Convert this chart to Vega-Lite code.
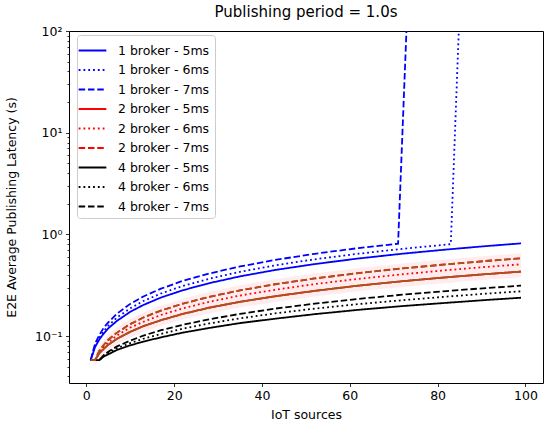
{
"$schema": "https://vega.github.io/schema/vega-lite/v6.json",
"width": 474, "height": 352,
"autosize": {"type": "none"},
"padding": {"left": 69, "top": 31, "right": 7, "bottom": 47},
"title": {"text": "Publishing period = 1.0s", "fontSize": 15, "font": "DejaVu Sans", "fontWeight": "normal", "color": "#000", "offset": 5},
"config": {
  "font": "DejaVu Sans",
  "view": {"stroke": "#000", "strokeWidth": 1},
  "axis": {"labelFont": "DejaVu Sans", "titleFont": "DejaVu Sans", "labelFontSize": 12.5, "titleFontSize": 12.5, "titleFontWeight": "normal", "labelColor": "#000", "titleColor": "#000", "tickColor": "#000", "grid": false, "domain": false}
},
"datasets": {
"lines": [
{"s":"1 broker - 5ms","x":1,"y":0.058},{"s":"1 broker - 5ms","x":2,"y":0.078},{"s":"1 broker - 5ms","x":3,"y":0.093},{"s":"1 broker - 5ms","x":4,"y":0.106},{"s":"1 broker - 5ms","x":5,"y":0.119},{"s":"1 broker - 5ms","x":7,"y":0.141},{"s":"1 broker - 5ms","x":10,"y":0.173},{"s":"1 broker - 5ms","x":13,"y":0.202},{"s":"1 broker - 5ms","x":17,"y":0.239},{"s":"1 broker - 5ms","x":22,"y":0.282},{"s":"1 broker - 5ms","x":28,"y":0.331},{"s":"1 broker - 5ms","x":35,"y":0.386},{"s":"1 broker - 5ms","x":43,"y":0.446},{"s":"1 broker - 5ms","x":52,"y":0.510},{"s":"1 broker - 5ms","x":62,"y":0.579},{"s":"1 broker - 5ms","x":72,"y":0.645},{"s":"1 broker - 5ms","x":82,"y":0.709},{"s":"1 broker - 5ms","x":91,"y":0.766},{"s":"1 broker - 5ms","x":99,"y":0.815},
{"s":"1 broker - 6ms","x":1,"y":0.058},{"s":"1 broker - 6ms","x":2,"y":0.081},{"s":"1 broker - 6ms","x":3,"y":0.097},{"s":"1 broker - 6ms","x":4,"y":0.112},{"s":"1 broker - 6ms","x":5,"y":0.126},{"s":"1 broker - 6ms","x":7,"y":0.152},{"s":"1 broker - 6ms","x":10,"y":0.187},{"s":"1 broker - 6ms","x":13,"y":0.221},{"s":"1 broker - 6ms","x":17,"y":0.262},{"s":"1 broker - 6ms","x":22,"y":0.311},{"s":"1 broker - 6ms","x":28,"y":0.366},{"s":"1 broker - 6ms","x":35,"y":0.428},{"s":"1 broker - 6ms","x":43,"y":0.495},{"s":"1 broker - 6ms","x":52,"y":0.568},{"s":"1 broker - 6ms","x":62,"y":0.645},{"s":"1 broker - 6ms","x":72,"y":0.720},{"s":"1 broker - 6ms","x":83,"y":0.800},{"s":"1 broker - 6ms","x":84,"y":11.3},{"s":"1 broker - 6ms","x":85,"y":160},{"s":"1 broker - 6ms","x":86,"y":2300},
{"s":"1 broker - 7ms","x":1,"y":0.058},{"s":"1 broker - 7ms","x":2,"y":0.084},{"s":"1 broker - 7ms","x":3,"y":0.103},{"s":"1 broker - 7ms","x":4,"y":0.121},{"s":"1 broker - 7ms","x":5,"y":0.136},{"s":"1 broker - 7ms","x":7,"y":0.166},{"s":"1 broker - 7ms","x":10,"y":0.207},{"s":"1 broker - 7ms","x":13,"y":0.245},{"s":"1 broker - 7ms","x":17,"y":0.292},{"s":"1 broker - 7ms","x":22,"y":0.349},{"s":"1 broker - 7ms","x":28,"y":0.412},{"s":"1 broker - 7ms","x":35,"y":0.483},{"s":"1 broker - 7ms","x":43,"y":0.560},{"s":"1 broker - 7ms","x":52,"y":0.644},{"s":"1 broker - 7ms","x":62,"y":0.733},{"s":"1 broker - 7ms","x":71,"y":0.810},{"s":"1 broker - 7ms","x":72,"y":10.2},{"s":"1 broker - 7ms","x":73,"y":128},{"s":"1 broker - 7ms","x":74,"y":1600},
{"s":"2 broker - 5ms","x":1,"y":0.058},{"s":"2 broker - 5ms","x":2,"y":0.058},{"s":"2 broker - 5ms","x":3,"y":0.068},{"s":"2 broker - 5ms","x":4,"y":0.075},{"s":"2 broker - 5ms","x":5,"y":0.082},{"s":"2 broker - 5ms","x":7,"y":0.094},{"s":"2 broker - 5ms","x":10,"y":0.110},{"s":"2 broker - 5ms","x":13,"y":0.125},{"s":"2 broker - 5ms","x":17,"y":0.143},{"s":"2 broker - 5ms","x":22,"y":0.165},{"s":"2 broker - 5ms","x":28,"y":0.190},{"s":"2 broker - 5ms","x":35,"y":0.217},{"s":"2 broker - 5ms","x":43,"y":0.246},{"s":"2 broker - 5ms","x":52,"y":0.278},{"s":"2 broker - 5ms","x":62,"y":0.313},{"s":"2 broker - 5ms","x":72,"y":0.346},{"s":"2 broker - 5ms","x":82,"y":0.378},{"s":"2 broker - 5ms","x":91,"y":0.406},{"s":"2 broker - 5ms","x":99,"y":0.430},
{"s":"2 broker - 6ms","x":1,"y":0.058},{"s":"2 broker - 6ms","x":2,"y":0.058},{"s":"2 broker - 6ms","x":3,"y":0.070},{"s":"2 broker - 6ms","x":4,"y":0.079},{"s":"2 broker - 6ms","x":5,"y":0.087},{"s":"2 broker - 6ms","x":7,"y":0.101},{"s":"2 broker - 6ms","x":10,"y":0.121},{"s":"2 broker - 6ms","x":13,"y":0.138},{"s":"2 broker - 6ms","x":17,"y":0.161},{"s":"2 broker - 6ms","x":22,"y":0.187},{"s":"2 broker - 6ms","x":28,"y":0.217},{"s":"2 broker - 6ms","x":35,"y":0.250},{"s":"2 broker - 6ms","x":43,"y":0.285},{"s":"2 broker - 6ms","x":52,"y":0.324},{"s":"2 broker - 6ms","x":62,"y":0.365},{"s":"2 broker - 6ms","x":72,"y":0.405},{"s":"2 broker - 6ms","x":82,"y":0.444},{"s":"2 broker - 6ms","x":91,"y":0.478},{"s":"2 broker - 6ms","x":99,"y":0.507},
{"s":"2 broker - 7ms","x":1,"y":0.058},{"s":"2 broker - 7ms","x":2,"y":0.058},{"s":"2 broker - 7ms","x":3,"y":0.072},{"s":"2 broker - 7ms","x":4,"y":0.082},{"s":"2 broker - 7ms","x":5,"y":0.092},{"s":"2 broker - 7ms","x":7,"y":0.108},{"s":"2 broker - 7ms","x":10,"y":0.131},{"s":"2 broker - 7ms","x":13,"y":0.152},{"s":"2 broker - 7ms","x":17,"y":0.178},{"s":"2 broker - 7ms","x":22,"y":0.208},{"s":"2 broker - 7ms","x":28,"y":0.243},{"s":"2 broker - 7ms","x":35,"y":0.281},{"s":"2 broker - 7ms","x":43,"y":0.323},{"s":"2 broker - 7ms","x":52,"y":0.368},{"s":"2 broker - 7ms","x":62,"y":0.416},{"s":"2 broker - 7ms","x":72,"y":0.462},{"s":"2 broker - 7ms","x":82,"y":0.507},{"s":"2 broker - 7ms","x":91,"y":0.547},{"s":"2 broker - 7ms","x":99,"y":0.581},
{"s":"4 broker - 5ms","x":1,"y":0.058},{"s":"4 broker - 5ms","x":2,"y":0.058},{"s":"4 broker - 5ms","x":3,"y":0.058},{"s":"4 broker - 5ms","x":4,"y":0.063},{"s":"4 broker - 5ms","x":5,"y":0.066},{"s":"4 broker - 5ms","x":7,"y":0.073},{"s":"4 broker - 5ms","x":10,"y":0.081},{"s":"4 broker - 5ms","x":13,"y":0.088},{"s":"4 broker - 5ms","x":17,"y":0.097},{"s":"4 broker - 5ms","x":22,"y":0.108},{"s":"4 broker - 5ms","x":28,"y":0.120},{"s":"4 broker - 5ms","x":35,"y":0.134},{"s":"4 broker - 5ms","x":43,"y":0.148},{"s":"4 broker - 5ms","x":52,"y":0.164},{"s":"4 broker - 5ms","x":62,"y":0.181},{"s":"4 broker - 5ms","x":72,"y":0.197},{"s":"4 broker - 5ms","x":82,"y":0.212},{"s":"4 broker - 5ms","x":91,"y":0.226},{"s":"4 broker - 5ms","x":99,"y":0.238},
{"s":"4 broker - 6ms","x":1,"y":0.058},{"s":"4 broker - 6ms","x":2,"y":0.058},{"s":"4 broker - 6ms","x":3,"y":0.058},{"s":"4 broker - 6ms","x":4,"y":0.064},{"s":"4 broker - 6ms","x":5,"y":0.068},{"s":"4 broker - 6ms","x":7,"y":0.076},{"s":"4 broker - 6ms","x":10,"y":0.085},{"s":"4 broker - 6ms","x":13,"y":0.094},{"s":"4 broker - 6ms","x":17,"y":0.105},{"s":"4 broker - 6ms","x":22,"y":0.118},{"s":"4 broker - 6ms","x":28,"y":0.133},{"s":"4 broker - 6ms","x":35,"y":0.149},{"s":"4 broker - 6ms","x":43,"y":0.167},{"s":"4 broker - 6ms","x":52,"y":0.186},{"s":"4 broker - 6ms","x":62,"y":0.206},{"s":"4 broker - 6ms","x":72,"y":0.225},{"s":"4 broker - 6ms","x":82,"y":0.244},{"s":"4 broker - 6ms","x":91,"y":0.261},{"s":"4 broker - 6ms","x":99,"y":0.275},
{"s":"4 broker - 7ms","x":1,"y":0.058},{"s":"4 broker - 7ms","x":2,"y":0.058},{"s":"4 broker - 7ms","x":3,"y":0.058},{"s":"4 broker - 7ms","x":4,"y":0.065},{"s":"4 broker - 7ms","x":5,"y":0.070},{"s":"4 broker - 7ms","x":7,"y":0.079},{"s":"4 broker - 7ms","x":10,"y":0.090},{"s":"4 broker - 7ms","x":13,"y":0.101},{"s":"4 broker - 7ms","x":17,"y":0.114},{"s":"4 broker - 7ms","x":22,"y":0.129},{"s":"4 broker - 7ms","x":28,"y":0.146},{"s":"4 broker - 7ms","x":35,"y":0.165},{"s":"4 broker - 7ms","x":43,"y":0.186},{"s":"4 broker - 7ms","x":52,"y":0.208},{"s":"4 broker - 7ms","x":62,"y":0.232},{"s":"4 broker - 7ms","x":72,"y":0.255},{"s":"4 broker - 7ms","x":82,"y":0.277},{"s":"4 broker - 7ms","x":91,"y":0.296},{"s":"4 broker - 7ms","x":99,"y":0.313}
],
"band": [
{"x":2,"lo":0.051,"hi":0.065},{"x":3,"lo":0.060,"hi":0.081},{"x":4,"lo":0.066,"hi":0.092},{"x":5,"lo":0.072,"hi":0.103},{"x":7,"lo":0.083,"hi":0.121},{"x":10,"lo":0.097,"hi":0.147},{"x":13,"lo":0.110,"hi":0.170},{"x":17,"lo":0.126,"hi":0.199},{"x":22,"lo":0.145,"hi":0.233},{"x":28,"lo":0.167,"hi":0.272},{"x":35,"lo":0.191,"hi":0.315},{"x":43,"lo":0.216,"hi":0.362},{"x":52,"lo":0.245,"hi":0.412},{"x":62,"lo":0.275,"hi":0.466},{"x":72,"lo":0.304,"hi":0.517},{"x":82,"lo":0.333,"hi":0.568},{"x":91,"lo":0.357,"hi":0.613},{"x":99,"lo":0.378,"hi":0.651}
]
},
"layer": [
{
  "data": {"name": "band"},
  "mark": {"type": "area", "color": "#ffc0cb", "opacity": 0.3, "clip": true},
  "encoding": {
    "x": {"field": "x", "type": "quantitative"},
    "y": {"field": "lo", "type": "quantitative"},
    "y2": {"field": "hi"}
  }
},
{
  "data": {"name": "lines"},
  "mark": {"type": "line", "strokeWidth": 1.8, "clip": true},
  "encoding": {
    "x": {"field": "x", "type": "quantitative", "scale": {"domain": [-3.94, 104], "nice": false, "zero": false},
          "axis": {"title": "IoT sources", "values": [0,20,40,60,80,100], "tickSize": 3.5, "tickWidth": 0.8, "labelPadding": 3, "titlePadding": 6}},
    "y": {"field": "y", "type": "quantitative", "scale": {"type": "log", "domain": [0.0345, 100], "nice": false},
          "axis": {"title": "E2E Average Publishing Latency (s)",
                   "values": [0.04,0.05,0.06,0.07,0.08,0.09,0.1,0.2,0.3,0.4,0.5,0.6,0.7,0.8,0.9,1,2,3,4,5,6,7,8,9,10,20,30,40,50,60,70,80,90,100],
                   "labelExpr": "datum.value == 0.1 ? '10⁻¹' : datum.value == 1 ? '10⁰' : datum.value == 10 ? '10¹' : datum.value == 100 ? '10²' : ''",
                   "labelOverlap": false, "labelBound": false, "labelFlush": false,
                   "tickSize": {"condition": {"test": "datum.value == 0.1 || datum.value == 1 || datum.value == 10 || datum.value == 100", "value": 3.5}, "value": 2},
                   "tickWidth": 0.8, "labelPadding": 3.5, "titlePadding": 16}},
    "color": {"field": "s", "type": "nominal",
              "scale": {"domain": ["1 broker - 5ms","1 broker - 6ms","1 broker - 7ms","2 broker - 5ms","2 broker - 6ms","2 broker - 7ms","4 broker - 5ms","4 broker - 6ms","4 broker - 7ms"],
                        "range": ["#0000ff","#0000ff","#0000ff","#ff0000","#ff0000","#ff0000","#000000","#000000","#000000"]},
              "legend": {"title": null, "orient": "none", "legendX": 8, "legendY": 4, "symbolType": "M-1.5,0H1.5", "symbolSize": 340, "symbolStrokeWidth": 1.8,
                         "labelFontSize": 12.5, "labelFont": "DejaVu Sans", "labelColor": "#000", "labelOffset": 15, "rowPadding": 2.5,
                         "padding": 5, "fillColor": "rgba(255,255,255,0.8)", "strokeColor": "#cccccc", "cornerRadius": 3}},
    "strokeDash": {"field": "s", "type": "nominal",
              "scale": {"domain": ["1 broker - 5ms","1 broker - 6ms","1 broker - 7ms","2 broker - 5ms","2 broker - 6ms","2 broker - 7ms","4 broker - 5ms","4 broker - 6ms","4 broker - 7ms"],
                        "range": [[1,0],[1.8,3],[6.5,2.8],[1,0],[1.8,3],[6.5,2.8],[1,0],[1.8,3],[6.5,2.8]]},
              "legend": {"title": null, "orient": "none", "legendX": 8, "legendY": 4, "symbolType": "M-1.5,0H1.5", "symbolSize": 340, "symbolStrokeWidth": 1.8,
                         "labelFontSize": 12.5, "labelFont": "DejaVu Sans", "labelColor": "#000", "labelOffset": 15, "rowPadding": 2.5,
                         "padding": 5, "fillColor": "rgba(255,255,255,0.8)", "strokeColor": "#cccccc", "cornerRadius": 3}}
  }
},
{
  "data": {"name": "lines"},
  "transform": [{"filter": "datum.s == '2 broker - 5ms' || datum.s == '2 broker - 7ms'"}],
  "mark": {"type": "line", "strokeWidth": 1.8, "clip": true, "color": "#a9521c"},
  "encoding": {
    "x": {"field": "x", "type": "quantitative"},
    "y": {"field": "y", "type": "quantitative"},
    "strokeDash": {"field": "s", "type": "nominal", "legend": null}
  }
}
]
}
